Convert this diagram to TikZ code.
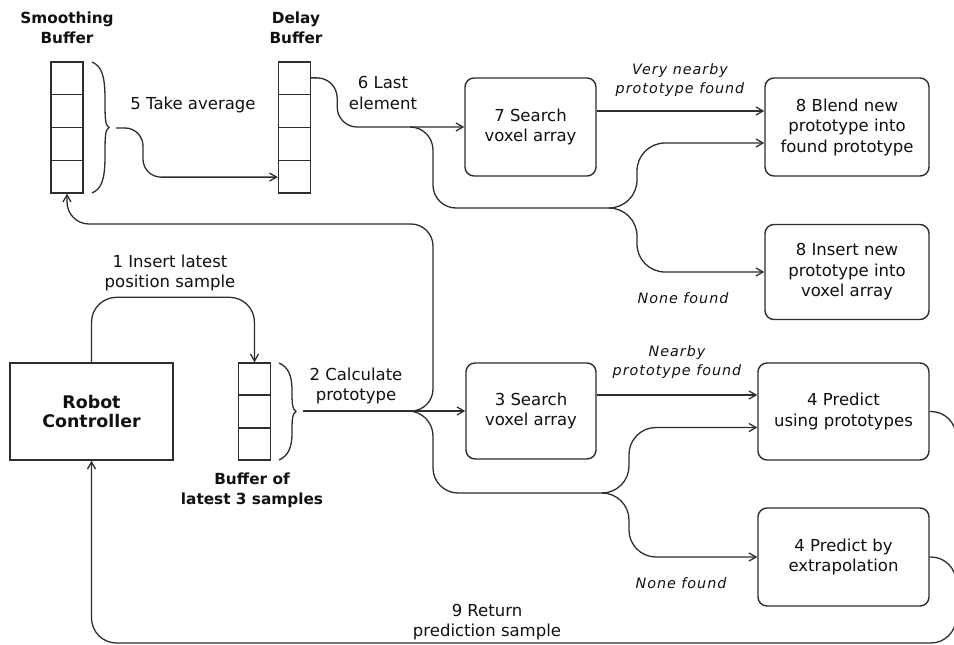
\documentclass[tikz,border=0pt]{standalone}
\usepackage{fontspec}
\setmainfont{DejaVu Sans}
\usetikzlibrary{arrows.meta,calc}
\definecolor{lc}{HTML}{2E2E2E}
\definecolor{tc}{HTML}{111111}
\newcommand{\mybrace}[3]{% x, ytop, ybottom
  \draw[ln] ({#1},{#2}) .. controls ({#1+9},{#2+4}) and ({#1+13},{#2+12}) .. ({#1+13},{#2+((#3)-(#2))*0.28})
    .. controls ({#1+13},{(#2+#3)/2-10}) and ({#1+13},{(#2+#3)/2-2}) .. ({#1+17},{(#2+#3)/2})
    .. controls ({#1+13},{(#2+#3)/2+2}) and ({#1+13},{(#2+#3)/2+10}) .. ({#1+13},{#3-((#3)-(#2))*0.28})
    .. controls ({#1+13},{#3-12}) and ({#1+9},{#3-4}) .. ({#1},{#3});}
\begin{document}
\begin{tikzpicture}[x=1pt,y=-1pt,
  ln/.style={draw=lc,line width=1.3pt},
  arr/.style={ln,-{Straight Barb[length=7pt,width=8pt]}},
  bufbox/.style={draw=lc,line width=1.3pt,minimum width=32pt,minimum height=#1,inner sep=0pt},
  proc/.style={draw=lc,line width=1.4pt,rounded corners=9pt,align=center,text=tc,
    font=\fontsize{16.5}{20.5}\selectfont,inner sep=0pt},
  lab/.style={align=center,text=tc,font=\fontsize{16.5}{20.5}\selectfont},
  blab/.style={align=center,text=tc,font=\bfseries\fontsize{15.3}{20}\selectfont},
  ilab/.style={align=center,text=tc,font=\itshape\fontsize{14.3}{19}\selectfont\addfontfeature{LetterSpace=7}},
]
\clip (0,0) rectangle (954,645);
\fill[white] (0,0) rectangle (954,645);

% labels of buffers
\node[blab] (lsmooth) at (67,28) {Smoothing\\Buffer};
\node[blab] (ldelay) at (296,28) {Delay\\Buffer};

% buffers
\node[bufbox=131pt] (sbuf) at (67,127.5) {};
\node[bufbox=131pt] (dbuf) at (294.5,127.5) {};
\node[bufbox=97pt] (qbuf) at (254.5,411.5) {};
\foreach \f in {0.25,0.5,0.75}{
  \draw[ln] ($(sbuf.north west)!\f!(sbuf.south west)$) -- ($(sbuf.north east)!\f!(sbuf.south east)$);
  \draw[ln] ($(dbuf.north west)!\f!(dbuf.south west)$) -- ($(dbuf.north east)!\f!(dbuf.south east)$);
}
\foreach \f in {0.3333,0.6667}{
  \draw[ln] ($(qbuf.north west)!\f!(qbuf.south west)$) -- ($(qbuf.north east)!\f!(qbuf.south east)$);
}

\mybrace{92}{62}{193}
\mybrace{279}{363}{460}

% robot
\node[draw=lc,line width=1.4pt,minimum width=163pt,minimum height=97pt,inner sep=0pt,
  align=center,text=tc,font=\bfseries\fontsize{17.4}{19.5}\selectfont] (robot) at (91.5,411.5) {Robot\\Controller};

% process boxes
\node[proc,minimum width=131pt,minimum height=98pt] (b7) at (530.5,127) {7 Search\\voxel array};
\node[proc,minimum width=164pt,minimum height=98pt] (b8a) at (847,127) {8 Blend new\\prototype into\\found prototype};
\node[proc,minimum width=164pt,minimum height=95pt] (b8b) at (847,272) {8 Insert new\\prototype into\\voxel array};
\node[proc,minimum width=130pt,minimum height=96pt] (b3) at (531,411) {3 Search\\voxel array};
\node[proc,minimum width=171pt,minimum height=97pt] (b4a) at (843.5,411.5) {4 Predict\\using prototypes};
\node[proc,minimum width=171pt,minimum height=98pt] (b4b) at (843.5,557) {4 Predict by\\extrapolation};

% text labels
\node[lab] (l5) at (193,105) {5 Take average};
\node[lab] (l6) at (383,93) {6 Last\\element};
\node[ilab] (lvn) at (680,80) {Very nearby\\prototype found};
\node[ilab] (lnf1) at (683,298) {None found};
\node[lab] (l1) at (170,273) {1 Insert latest\\position sample};
\node[lab] (l2) at (356,386) {2 Calculate\\prototype};
\node[ilab] (lnb) at (677,362) {Nearby\\prototype found};
\node[ilab] (lnf2) at (681,583) {None found};
\node[lab] (l9) at (487,622) {9 Return\\prediction sample};
\node[blab] (lbuf) at (252,490) {Buffer of\\latest 3 samples};

% coordinates
\coordinate (st) at (116,128);
\coordinate (j6) at (410,127);
\coordinate (j7) at (610,208);
\coordinate (ct) at (303,411);
\coordinate (j2) at (408,411);
\coordinate (j3) at (603,493);
\coordinate (rr) at (956,643);

% 5 take average
\draw[arr,rounded corners=18pt] (st) -- ++(27,0) |- ($(dbuf.south west)!0.125!(dbuf.north west)$);
% 6 last element
\draw[arr,rounded corners=20pt] ($(dbuf.north east)!0.125!(dbuf.south east)$) -- ++(26,0) |- (b7.west);
\draw[ln,rounded corners=23pt] (j6) -- ++(23,0) |- (j7);
\draw[arr,rounded corners=28pt] (j7) -- ++(27,0) |- ([yshift=-16pt]b8a.west);
\draw[arr,rounded corners=28pt] (j7) -- ++(27,0) |- (b8b.west);
\draw[arr] ([yshift=16pt]b7.east) -- ([yshift=16pt]b7.east -| b8a.west);

% 1 insert
\draw[arr,rounded corners=25pt] (robot.north) -- ++(0,-65) -| (qbuf.north);
% 2 calculate
\draw[arr] (ct) -- (b3.west);
\draw[arr,rounded corners=22pt] (j2) -- ++(25,0) -- ++(0,-187) -| (sbuf.south);
\draw[ln,rounded corners=25pt] (j2) -- ++(25,0) |- (j3);
\draw[arr,rounded corners=27pt] (j3) -- ++(26,0) |- ([yshift=-16pt]b4a.west);
\draw[arr,rounded corners=27pt] (j3) -- ++(26,0) |- (b4b.west);
\draw[arr] ([yshift=16pt]b3.east) -- ([yshift=16pt]b3.east -| b4a.west);

% 9 return
\draw[arr,rounded corners=25pt] (b4a.east) -| (rr) -| (robot.south);
\draw[ln,rounded corners=25pt] (b4b.east) -| (rr);
\end{tikzpicture}
\end{document}
